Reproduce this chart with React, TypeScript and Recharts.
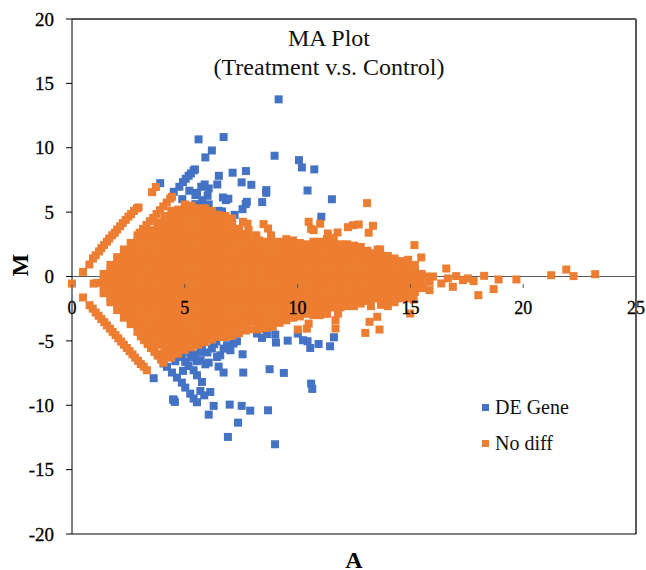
import {
  ScatterChart,
  Scatter,
  XAxis,
  YAxis,
  ZAxis,
  ReferenceLine,
  Legend,
} from "recharts";

const C_BLUE = "#4472c4";
const C_ORANGE = "#ed7d31";
const C_FRAME = "#595959";
const FONT = "'Liberation Serif', 'Times New Roman', serif";

const xTicks = [0, 5, 10, 15, 20, 25];
const yTicks = [-20, -15, -10, -5, 0, 5, 10, 15, 20];

// [A, M] pairs
const deGenePoints = [
  [9.16, 13.76], [5.61, 10.65], [6.72, 10.83], [6.2, 9.79], [5.91, 9.25], [8.98, 9.38], [10.06, 9.04],
  [10.19, 8.47], [10.74, 8.32], [10.44, 6.68], [3.91, 7.25], [6.51, 7.82], [6.44, 7.15], [7.12, 8.06],
  [7.71, 8.19], [7.52, 7.31], [7.95, 7.12], [8.61, 6.71], [8.61, 6.5], [8.43, 5.78], [7.75, 5.8],
  [7.7, 5.62], [7.56, 5.23], [7.21, 4.79], [6.69, 6.14], [6.82, 5.93], [6.93, 6.04], [6.5, 5.1],
  [6.65, 5.05], [6.06, 5.6], [6.01, 6.27], [6.06, 6.84], [5.88, 7.15], [5.73, 6.97], [5.54, 6.5],
  [5.47, 6.32], [5.2, 6.66], [4.89, 6.01], [5.78, 5.93], [5.47, 5.62], [5.69, 5.54], [4.51, 6.58],
  [4.76, 6.97], [4.92, 7.33], [5.04, 7.59], [5.17, 7.82], [5.27, 8.0], [5.39, 8.24], [5.45, 8.32],
  [11.05, 4.64], [11.52, 6.0],
  [3.62, -7.9], [4.51, -9.6], [4.48, -9.54], [4.56, -9.74], [6.06, -10.73], [6.28, -10.05], [6.99, -9.95],
  [7.52, -10.05], [7.9, -10.42], [8.69, -10.39], [7.36, -11.35], [6.91, -12.46], [9.0, -13.03], [6.13, -8.97],
  [5.86, -9.23], [5.69, -8.89], [5.76, -8.19], [5.54, -9.77], [5.39, -9.48], [5.24, -9.1], [5.02, -8.63],
  [4.87, -8.24], [4.65, -7.85], [4.43, -7.46], [4.21, -7.02], [4.06, -6.76], [5.54, -7.67], [5.39, -7.28],
  [5.17, -6.95], [4.92, -7.33], [5.02, -6.63], [4.58, -6.58], [4.87, -6.25], [5.24, -5.99], [5.54, -6.58],
  [5.7, -6.5], [5.91, -6.82], [6.06, -6.69], [5.76, -5.34], [5.69, -5.86], [6.2, -5.6], [6.43, -6.25],
  [6.57, -6.12], [6.72, -5.6], [6.5, -7.0], [6.72, -7.46], [7.02, -5.73], [6.87, -5.34], [7.16, -5.21],
  [7.31, -5.03], [6.4, -5.03], [7.56, -6.04], [7.59, -7.46], [8.76, -7.2], [9.39, -7.49], [9.04, -5.13],
  [9.56, -4.98], [10.24, -4.95], [10.44, -5.03], [10.56, -5.55], [10.93, -5.24], [10.6, -8.32], [10.65, -8.73],
  [8.2, -4.43], [8.42, -4.77], [8.64, -4.48], [9.01, -4.51], [10.01, -4.43], [11.61, -4.72], [11.44, -5.42],
  [5.3, -6.3], [5.45, -6.05], [6.0, -5.9], [6.3, -5.25],
];

// the two thin diagonals left of the main cloud, and the far outliers
const noDiffEdgePoints = [
  [0, -0.55], [0.96, -0.55], [1.12, -0.5], [0.49, 0.36], [0.77, 0.93], [0.93, 1.4], [1.05, 1.65], [1.2, 1.95],
  [1.3, 2.2], [1.42, 2.45], [1.55, 2.7], [1.65, 2.95], [1.78, 3.2], [1.9, 3.4], [2.0, 3.65], [2.13, 3.9],
  [2.25, 4.15], [2.38, 4.4], [2.5, 4.65], [2.62, 4.85], [2.75, 5.1], [2.88, 5.3], [2.95, 5.36], [3.55, 6.55],
  [3.72, 6.95],
  [0.49, -1.63], [0.78, -2.23], [0.92, -2.5], [1.05, -2.8], [1.18, -3.05], [1.3, -3.3], [1.43, -3.55],
  [1.55, -3.8], [1.68, -4.05], [1.8, -4.3], [1.93, -4.55], [2.05, -4.8], [2.18, -5.05], [2.3, -5.3],
  [2.43, -5.55], [2.55, -5.8], [2.68, -6.05], [2.8, -6.3], [2.93, -6.55], [3.05, -6.8], [3.18, -7.0], [3.32, -7.28],
  [3.0, 3.4], [3.15, 3.7], [3.3, 4.0], [3.45, 4.3], [3.6, 4.55], [3.75, 4.85], [3.9, 5.15], [4.05, 5.45],
  [4.2, 5.75], [4.35, 6.05], [4.43, 6.19], [3.05, -4.65], [3.2, -4.95], [3.35, -5.25], [3.5, -5.55],
  [3.65, -5.85], [3.8, -6.15], [3.95, -6.45], [4.06, -6.7],
  [10.49, 4.25], [10.71, 3.6], [10.6, 3.7], [11.0, 4.1], [7.78, 4.1], [8.49, 4.07], [8.69, 3.73], [8.82, 3.2],
  [8.17, 3.2], [7.83, 3.6], [7.58, 4.25], [13.08, 5.7], [12.23, 3.83], [12.45, 3.98], [12.71, 4.04], [13.34, 3.94],
  [13.15, 3.4], [11.34, 3.34], [11.77, 3.42], [15.18, 2.44], [13.66, 2.1], [13.55, 2.1], [15.48, 1.48], [16.59, 0.62],
  [17.03, 0.03], [16.66, -0.15], [16.37, -0.54], [16.88, -0.8], [17.55, -0.15], [17.8, -0.36], [17.33, -0.28],
  [18.01, -1.45], [18.27, 0.05], [18.69, -0.98], [18.91, -0.23], [19.7, -0.23], [21.24, 0.1], [21.91, 0.54],
  [22.23, 0.03], [23.19, 0.18], [15.85, -0.41], [15.85, -1.06], [15.7, 0.0], [16.0, 0.0], [15.56, -0.85],
  [15.14, -1.79], [14.99, -2.88], [13.25, -2.3], [13.53, -3.13], [13.19, -3.52], [11.68, -3.4], [11.68, -4.04],
  [13.0, -4.38], [13.63, -4.12], [11.79, -2.88], [10.01, -4.12], [10.41, -4.05], [10.49, -3.66],
];

// the dense cloud, one row per A value: [A, ...M]
const noDiffColumns = [
  [1.4, 0.2, -0.3, -0.8, -1.3],
  [1.7, 0.9, 0.4, -0.1, -0.6, -1.1, -1.6, -2.0],
  [2.0, 1.5, 1.0, 0.5, 0, -0.5, -1.0, -1.5, -2.0, -2.6],
  [2.3, 2.1, 1.6, 1.1, 0.6, 0.1, -0.4, -0.9, -1.4, -1.9, -2.4, -2.8, -3.2],
  [2.6, 2.6, 2.1, 1.6, 1.1, 0.6, 0.1, -0.4, -0.9, -1.4, -1.9, -2.4, -2.9, -3.3, -3.7],
  [2.9, 3.2, 2.7, 2.2, 1.7, 1.2, 0.7, 0.2, -0.3, -0.8, -1.3, -1.8, -2.3, -2.8, -3.3, -3.8, -4.3],
  [3.2, 3.3, 2.8, 2.3, 1.8, 1.3, 0.8, 0.3, -0.2, -0.7, -1.2, -1.7, -2.2, -2.7, -3.2, -3.7, -4.2, -4.6, -4.9],
  [3.5, 3.6, 3.1, 2.6, 2.1, 1.6, 1.1, 0.6, 0.1, -0.4, -0.9, -1.4, -1.9, -2.4, -2.9, -3.4, -3.9, -4.4, -4.9, -5.5],
  [3.8, 4.2, 3.7, 3.2, 2.7, 2.2, 1.7, 1.2, 0.7, 0.2, -0.3, -0.8, -1.3, -1.8, -2.3, -2.8, -3.3, -3.8, -4.3, -4.8, -5.3, -6.0],
  [4.1, 4.7, 4.2, 3.7, 3.2, 2.7, 2.2, 1.7, 1.2, 0.7, 0.2, -0.3, -0.8, -1.3, -1.8, -2.3, -2.8, -3.3, -3.8, -4.3, -4.8, -5.3, -5.8, -6.3],
  [4.4, 5.1, 4.6, 4.1, 3.6, 3.1, 2.6, 2.1, 1.6, 1.1, 0.6, 0.1, -0.4, -0.9, -1.4, -1.9, -2.4, -2.9, -3.4, -3.9, -4.4, -4.9, -5.4, -5.9, -6.3],
  [4.7, 5.2, 4.7, 4.2, 3.7, 3.2, 2.7, 2.2, 1.7, 1.2, 0.7, 0.2, -0.3, -0.8, -1.3, -1.8, -2.3, -2.8, -3.3, -3.8, -4.3, -4.8, -5.3, -5.7, -6.0],
  [5.0, 5.6, 5.1, 4.6, 4.1, 3.6, 3.1, 2.6, 2.1, 1.6, 1.1, 0.6, 0.1, -0.4, -0.9, -1.4, -1.9, -2.4, -2.9, -3.4, -3.9, -4.4, -4.9, -5.3, -5.7],
  [5.3, 5.5, 5.0, 4.5, 4.0, 3.5, 3.0, 2.5, 2.0, 1.5, 1.0, 0.5, 0, -0.5, -1.0, -1.5, -2.0, -2.5, -3.0, -3.5, -4.0, -4.5, -5.0, -5.5],
  [5.6, 5.3, 4.8, 4.3, 3.8, 3.3, 2.8, 2.3, 1.8, 1.3, 0.8, 0.3, -0.2, -0.7, -1.2, -1.7, -2.2, -2.7, -3.2, -3.7, -4.2, -4.7, -5.3],
  [5.9, 5.3, 4.8, 4.3, 3.8, 3.3, 2.8, 2.3, 1.8, 1.3, 0.8, 0.3, -0.2, -0.7, -1.2, -1.7, -2.2, -2.7, -3.2, -3.7, -4.2, -4.7, -5.1],
  [6.2, 5.1, 4.6, 4.1, 3.6, 3.1, 2.6, 2.1, 1.6, 1.1, 0.6, 0.1, -0.4, -0.9, -1.4, -1.9, -2.4, -2.9, -3.4, -3.9, -4.4, -4.9],
  [6.5, 4.8, 4.3, 3.8, 3.3, 2.8, 2.3, 1.8, 1.3, 0.8, 0.3, -0.2, -0.7, -1.2, -1.7, -2.2, -2.7, -3.2, -3.7, -4.2, -4.7],
  [6.8, 4.7, 4.2, 3.7, 3.2, 2.7, 2.2, 1.7, 1.2, 0.7, 0.2, -0.3, -0.8, -1.3, -1.8, -2.3, -2.8, -3.3, -3.8, -4.3, -4.7],
  [7.1, 4.5, 4.0, 3.5, 3.0, 2.5, 2.0, 1.5, 1.0, 0.5, 0, -0.5, -1.0, -1.5, -2.0, -2.5, -3.0, -3.5, -4.0, -4.6],
  [7.4, 3.7, 3.2, 2.7, 2.2, 1.7, 1.2, 0.7, 0.2, -0.3, -0.8, -1.3, -1.8, -2.3, -2.8, -3.3, -3.8, -4.4],
  [7.7, 3.3, 2.8, 2.3, 1.8, 1.3, 0.8, 0.3, -0.2, -0.7, -1.2, -1.7, -2.2, -2.7, -3.2, -3.7, -4.2],
  [8.0, 3.0, 2.5, 2.0, 1.5, 1.0, 0.5, 0, -0.5, -1.0, -1.5, -2.0, -2.5, -3.0, -3.5, -4.1],
  [8.3, 2.8, 2.3, 1.8, 1.3, 0.8, 0.3, -0.2, -0.7, -1.2, -1.7, -2.2, -2.7, -3.2, -3.7, -4.1],
  [8.6, 2.7, 2.2, 1.7, 1.2, 0.7, 0.2, -0.3, -0.8, -1.3, -1.8, -2.3, -2.8, -3.3, -3.7, -4.0],
  [8.9, 2.7, 2.2, 1.7, 1.2, 0.7, 0.2, -0.3, -0.8, -1.3, -1.8, -2.3, -2.8, -3.3, -3.9],
  [9.2, 2.7, 2.2, 1.7, 1.2, 0.7, 0.2, -0.3, -0.8, -1.3, -1.8, -2.3, -2.8, -3.3, -3.6],
  [9.5, 2.9, 2.4, 1.9, 1.4, 0.9, 0.4, -0.1, -0.6, -1.1, -1.6, -2.1, -2.6, -3.1, -3.4],
  [9.8, 2.8, 2.3, 1.8, 1.3, 0.8, 0.3, -0.2, -0.7, -1.2, -1.7, -2.2, -2.7, -3.2],
  [10.1, 2.6, 2.1, 1.6, 1.1, 0.6, 0.1, -0.4, -0.9, -1.4, -1.9, -2.4, -2.8, -3.1],
  [10.4, 2.5, 2.0, 1.5, 1.0, 0.5, 0, -0.5, -1.0, -1.5, -2.0, -2.5, -2.9],
  [10.7, 2.7, 2.2, 1.7, 1.2, 0.7, 0.2, -0.3, -0.8, -1.3, -1.8, -2.3, -2.7, -3.0],
  [11.0, 2.7, 2.2, 1.7, 1.2, 0.7, 0.2, -0.3, -0.8, -1.3, -1.8, -2.3, -2.7, -3.0],
  [11.3, 2.9, 2.4, 1.9, 1.4, 0.9, 0.4, -0.1, -0.6, -1.1, -1.6, -2.1, -2.6, -2.9],
  [11.6, 3.0, 2.5, 2.0, 1.5, 1.0, 0.5, 0, -0.5, -1.0, -1.5, -2.0, -2.4],
  [11.9, 2.5, 2.0, 1.5, 1.0, 0.5, 0, -0.5, -1.0, -1.5, -2.0, -2.4],
  [12.2, 2.5, 2.0, 1.5, 1.0, 0.5, 0, -0.5, -1.0, -1.5, -2.0, -2.3],
  [12.5, 2.4, 1.9, 1.4, 0.9, 0.4, -0.1, -0.6, -1.1, -1.6, -2.1, -2.3],
  [12.8, 2.3, 1.8, 1.3, 0.8, 0.3, -0.2, -0.7, -1.2, -1.7, -2.1],
  [13.1, 2.0, 1.5, 1.0, 0.5, 0, -0.5, -1.0, -1.5, -1.9],
  [13.4, 1.8, 1.3, 0.8, 0.3, -0.2, -0.7, -1.2, -1.7],
  [13.7, 1.6, 1.1, 0.6, 0.1, -0.4, -0.9, -1.4, -1.8, -2.2],
  [14.0, 1.6, 1.1, 0.6, 0.1, -0.4, -0.9, -1.4, -1.9, -2.3],
  [14.3, 1.4, 0.9, 0.4, -0.1, -0.6, -1.1, -1.6, -2.0],
  [14.6, 1.2, 0.7, 0.2, -0.3, -0.8, -1.3, -1.7],
  [14.9, 1.3, 0.8, 0.3, -0.2, -0.7, -1.2, -1.7],
  [15.2, 0.9, 0.4, 0, -0.4, -0.8, -1.2],
  [15.5, 0.2, -0.3, -0.9],
];

const toPoints = (pairs: number[][]) => pairs.map(([a, m]) => ({ a, m }));

const deGeneData = toPoints(deGenePoints);
const noDiffData = [
  ...noDiffColumns.flatMap(([a, ...ms]) => ms.map((m) => ({ a, m }))),
  ...toPoints(noDiffEdgePoints),
];

// distance from the bottom axis up to the M = 0 line, where the A ticks really sit
const ZERO_LINE_LIFT = 258;

function ATick({ x, y, payload }: any) {
  const top = y - ZERO_LINE_LIFT;
  return (
    <g>
      <line x1={x} x2={x} y1={top} y2={top + 4} stroke={C_FRAME} />
      <text
        x={x}
        y={top + 30}
        textAnchor="middle"
        fontFamily={FONT}
        fontSize={18}
        fill="#000"
        stroke="#000"
        strokeWidth={0.3}
      >
        {payload.value}
      </text>
    </g>
  );
}

function LegendBox({ payload }: any) {
  return (
    <div style={{ fontFamily: FONT, fontSize: 20, color: "#111" }}>
      {(payload ?? []).map((item: any) => (
        <div key={item.value} style={{ display: "flex", alignItems: "center", height: 36 }}>
          <span style={{ width: 7, height: 7, background: item.color, marginRight: 6 }} />
          {item.value}
        </div>
      ))}
    </div>
  );
}

export default function App() {
  return (
    <div style={{ position: "relative", width: 646, height: 570, background: "#fff" }}>
      <style>{"body { margin: 0; }"}</style>
      <ScatterChart width={646} height={570} margin={{ top: 19, right: 10, bottom: 0, left: 0 }}>
        <XAxis
          type="number"
          dataKey="a"
          domain={[0, 25]}
          ticks={xTicks}
          height={36}
          stroke="#000"
          tickLine={false}
          tick={<ATick />}
          interval={0}
          label={{
            value: "A",
            position: "insideBottom",
            offset: 2,
            fontFamily: FONT,
            fontSize: 24,
            fontWeight: 700,
            fill: "#000",
          }}
        />
        <YAxis
          type="number"
          dataKey="m"
          domain={[-20, 20]}
          ticks={yTicks}
          width={72}
          stroke="#000"
          tickSize={6}
          tickMargin={12}
          interval={0}
          tick={{ fontFamily: FONT, fontSize: 19, fill: "#000", stroke: "#000", strokeWidth: 0.3 }}
          label={{
            value: "M",
            angle: -90,
            position: "insideLeft",
            offset: 19,
            fontFamily: FONT,
            fontSize: 24,
            fontWeight: 700,
            fill: "#000",
          }}
        />
        <ZAxis range={[49, 49]} />
        <ReferenceLine y={20} stroke={C_FRAME} strokeWidth={2} />
        <ReferenceLine x={25} stroke={C_FRAME} strokeWidth={2} />
        <ReferenceLine y={0} stroke={C_FRAME} />
        <Legend
          layout="vertical"
          align="center"
          verticalAlign="middle"
          wrapperStyle={{ left: 482, top: 389, width: 120 }}
          content={<LegendBox />}
        />
        <Scatter
          name="DE Gene"
          data={deGeneData}
          fill={C_BLUE}
          shape="square"
          isAnimationActive={false}
        />
        <Scatter
          name="No diff"
          data={noDiffData}
          fill={C_ORANGE}
          shape="square"
          isAnimationActive={false}
        />
      </ScatterChart>
      <div
        style={{
          position: "absolute",
          left: 129,
          top: 24,
          width: 400,
          textAlign: "center",
          fontFamily: FONT,
          fontSize: 24,
          lineHeight: "29px",
          color: "#111",
        }}
      >
        MA Plot
        <br />
        (Treatment v.s. Control)
      </div>
    </div>
  );
}
